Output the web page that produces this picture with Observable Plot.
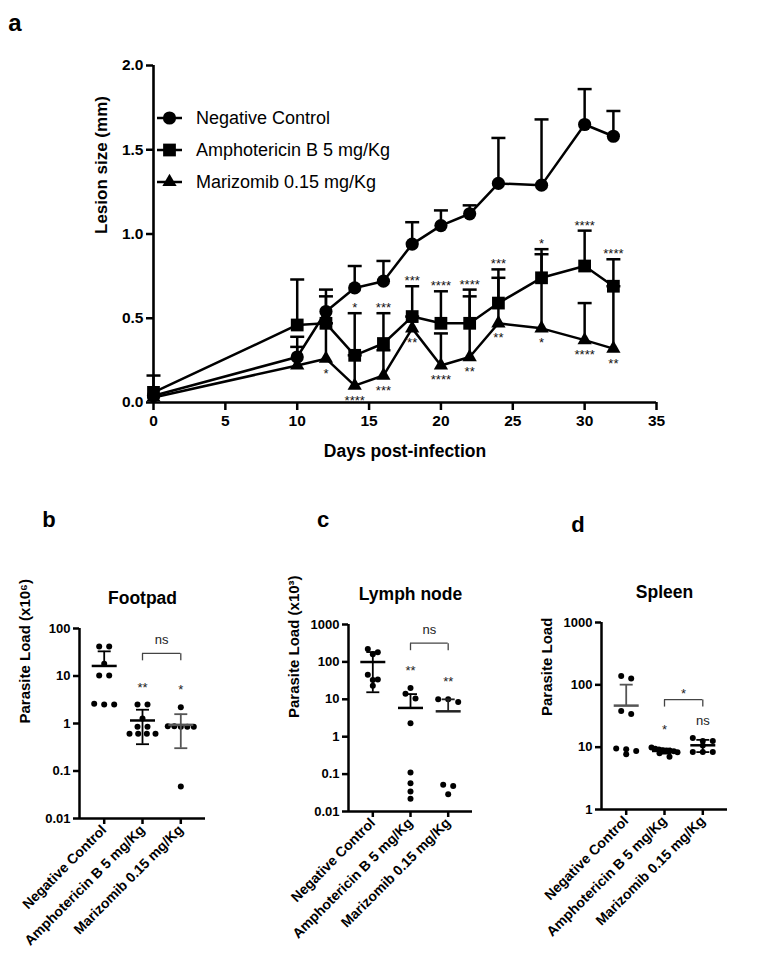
<!DOCTYPE html>
<html>
<head>
<meta charset="utf-8">
<script src="https://cdn.jsdelivr.net/npm/d3@7"></script>
<script src="https://cdn.jsdelivr.net/npm/@observablehq/plot@0.6"></script>
<style>
  body { margin: 0; background: #fff; }
  #fig { position: relative; width: 772px; height: 957px; background: #fff; overflow: hidden;
         font-family: "Liberation Sans", Arial, Helvetica, sans-serif; color: #000; }
  .panel { position: absolute; }
  .letter { position: absolute; font-weight: bold; font-size: 22px; line-height: 1; transform: translate(-50%, -50%); }
  .legend { position: absolute; left: 155px; top: 102px; font-size: 18px; }
  .legend .row { display: flex; align-items: center; height: 32px; }
  .legend .row span { margin-left: 11px; white-space: nowrap; }
</style>
</head>
<body>
<div id="fig"></div>
<script>
// ---- Lesion size over time (panel a) ----
const days = [0, 10, 12, 14, 16, 18, 20, 22, 24, 27, 30, 32];
const dayTicks = [0, 5, 10, 15, 20, 25, 30, 35];
const lesionTicks = [0, 0.5, 1.0, 1.5, 2.0];
const seriesNames = ["Negative Control", "Amphotericin B 5 mg/Kg", "Marizomib 0.15 mg/Kg"];

const controlMean = [0.04, 0.27, 0.54, 0.68, 0.72, 0.94, 1.05, 1.12, 1.30, 1.29, 1.65, 1.58];
const controlTop  = [0.04, 0.39, 0.67, 0.81, 0.84, 1.07, 1.14, 1.17, 1.57, 1.68, 1.86, 1.73];
const amphoMean   = [0.06, 0.46, 0.47, 0.28, 0.35, 0.51, 0.47, 0.47, 0.59, 0.74, 0.81, 0.69];
const amphoTop    = [0.16, 0.73, 0.63, 0.53, 0.53, 0.69, 0.66, 0.67, 0.79, 0.91, 1.02, 0.85];
const marizMean   = [0.03, 0.22, 0.26, 0.10, 0.16, 0.44, 0.22, 0.27, 0.47, 0.44, 0.37, 0.32];
const marizTop    = [0.03, 0.33, 0.47, 0.28, 0.31, 0.51, 0.41, 0.63, 0.74, 0.88, 0.59, 0.69];
const amphoStars  = ["", "", "", "*", "***", "***", "****", "****", "***", "*", "****", "****"];
const marizStars  = ["", "", "*", "****", "***", "**", "****", "**", "**", "*", "****", "**"];

// ---- Parasite load per organ (panels b–d) ----
const groupNames = ["Negative Control", "Amphotericin B 5 mg/Kg", "Marizomib 0.15 mg/Kg"];

const footpadControl = [42, 42, 18, 10.3, 10.3, 2.5, 2.6, 2.5];
const footpadAmpho   = [2.5, 2.5, 1.28, 0.85, 0.85, 0.61, 0.61, 0.61, 0.61];
const footpadMariz   = [2.2, 0.88, 0.85, 0.85, 0.88, 0.85, 0.047];
const footpadTicks   = [0.01, 0.1, 1, 10, 100];
const footpadStars   = ["", "**", "*"];

const lymphControl = [160, 180, 220, 45, 33, 34, 23];
const lymphAmpho   = [14, 20, 10.5, 2.3, 0.11, 0.057, 0.034, 0.022];
const lymphMariz   = [10, 8.5, 10, 0.052, 0.048, 0.029];
const lymphTicks   = [0.01, 0.1, 1, 10, 100, 1000];
const lymphStars   = ["", "**", "**"];

const spleenControl = [126, 138, 34, 38, 9.5, 9.3, 7.7, 8.7];
const spleenAmpho   = [9.9, 9.4, 9.2, 8.9, 8.8, 8.8, 8.6, 8.3, 8.0, 7.0];
const spleenMariz   = [12.6, 12.6, 14, 10.6, 8.4, 8.4, 8.4];
const spleenTicks   = [1, 10, 100, 1000];
const spleenStars   = ["", "*", "ns"];

const bracketLabels = ["ns", "ns", "*"];
const bracketLevels = [30, 316, 58];

// ---------------------------------------------------------------
const fig = document.getElementById("fig");
const FONT = "'Liberation Sans', Arial, Helvetica, sans-serif";

// horizontal bar and downward leg drawn as pixel-sized symbols
const hline = {draw(ctx, size) { const w = Math.sqrt(size / Math.PI); ctx.moveTo(-w, 0); ctx.lineTo(w, 0); }};
const legDown = {draw(ctx, size) { const h = Math.sqrt(size / Math.PI); ctx.moveTo(0, 0); ctx.lineTo(0, h); }};

function place(node, left, top) {
  node.classList.add("panel");
  node.style.left = left + "px";
  node.style.top = top + "px";
  fig.appendChild(node);
}
function letter(t, x, y, size) {
  const d = document.createElement("div");
  d.className = "letter"; d.textContent = t;
  d.style.left = x + "px"; d.style.top = y + "px";
  if (size) d.style.fontSize = size + "px";
  fig.appendChild(d);
}

// ---- panel a ----
const lesion = days.flatMap((day, i) => [
  {series: seriesNames[0], day, mean: controlMean[i], top: controlTop[i], stars: ""},
  {series: seriesNames[1], day, mean: amphoMean[i], top: amphoTop[i], stars: amphoStars[i]},
  {series: seriesNames[2], day, mean: marizMean[i], top: marizTop[i], stars: marizStars[i]}
]);
const withBar = lesion.filter(d => d.top > d.mean);
const markerSpec = [
  {symbol: "circle", r: 6.6},
  {symbol: "square", r: 7.2},
  {symbol: "triangle", r: 5.3}
];

const plotA = Plot.plot({
  width: 772, height: 470,
  marginLeft: 153, marginRight: 116, marginTop: 65, marginBottom: 68,
  x: {domain: [0, 35]},
  y: {domain: [0, 2]},
  style: {fontFamily: FONT, fontSize: "15.5px", fontWeight: "bold", color: "black", background: "transparent", overflow: "visible"},
  marks: [
    Plot.ruleX(withBar, {x: "day", y1: "mean", y2: "top", stroke: "black", strokeWidth: 2.5}),
    Plot.dot(withBar, {x: "day", y: "top", symbol: hline, r: 7, fill: "none", stroke: "black", strokeWidth: 2.5}),
    Plot.line(lesion, {x: "day", y: "mean", z: "series", stroke: "black", strokeWidth: 2.5}),
    ...seriesNames.map((s, k) => Plot.dot(lesion.filter(d => d.series === s),
      {x: "day", y: "mean", symbol: markerSpec[k].symbol, r: markerSpec[k].r, fill: "black", stroke: "none"})),
    Plot.text(lesion.filter(d => d.series === seriesNames[1] && d.stars),
      {x: "day", y: "top", text: "stars", lineAnchor: "bottom", dy: -1, fontSize: 13, fontWeight: "normal", fill: "#111"}),
    Plot.text(lesion.filter(d => d.series === seriesNames[2] && d.stars),
      {x: "day", y: "mean", text: "stars", lineAnchor: "bottom", dy: 19, fontSize: 13, fontWeight: "normal", fill: "#111"}),
    Plot.ruleX([0], {stroke: "black", strokeWidth: 2.6}),
    Plot.ruleY([0], {stroke: "black", strokeWidth: 2.6}),
    Plot.axisY({ticks: lesionTicks, tickFormat: d3.format(".1f"), tickSize: 7, tickPadding: 3, strokeWidth: 2.5, label: null}),
    Plot.axisX({ticks: dayTicks, tickSize: 8, tickPadding: 4, strokeWidth: 2.5, label: null}),
    Plot.text(["Days post-infection"], {frameAnchor: "bottom", dy: 49, lineAnchor: "middle", fontSize: 17.5}),
    Plot.text(["Lesion size (mm)"], {frameAnchor: "left", dx: -52, rotate: -90, lineAnchor: "middle", fontSize: 17})
  ]
});
place(plotA, 0, 0);
letter("a", 15, 23, 24);

// legend
const legend = document.createElement("div");
legend.className = "legend";
const legendSymbols = [d3.symbolCircle, d3.symbolSquare, d3.symbolTriangle];
seriesNames.forEach((name, k) => {
  const row = document.createElement("div");
  row.className = "row";
  const svg = d3.create("svg").attr("width", 30).attr("height", 32);
  svg.append("line").attr("x1", 2).attr("x2", 27).attr("y1", 16).attr("y2", 16)
    .attr("stroke", "black").attr("stroke-width", 2.5);
  svg.append("path").attr("transform", "translate(14.5,16)")
    .attr("d", d3.symbol(legendSymbols[k], Math.PI * markerSpec[k].r ** 2)()).attr("fill", "black");
  row.appendChild(svg.node());
  const span = document.createElement("span");
  span.textContent = name;
  row.appendChild(span);
  legend.appendChild(row);
});
fig.appendChild(legend);

// ---- panels b–d ----
const PAD = 0.645;

// spread points that share a level side by side, centred on their column
function scatterOffsets(values, pxPerDecade) {
  const idx = d3.range(values.length).sort((a, b) => values[b] - values[a]);
  const rows = [];
  for (const i of idx) {
    const y = Math.log10(values[i]) * pxPerDecade;
    const row = rows[rows.length - 1];
    if (row && row.y0 - y < 5) row.items.push(i);
    else rows.push({y0: y, items: [i]});
  }
  const off = new Array(values.length).fill(0);
  for (const {items} of rows) {
    const n = items.length;
    const s = n > 1 ? Math.min(10, 26 / (n - 1)) : 0;
    items.forEach((i, j) => off[i] = (j - (n - 1) / 2) * s);
  }
  return off;
}

function loadPanel(cfg) {
  const {groups, ticks, title, yLabel, stars, bracketLabel, bracketLevel, layout, barColors} = cfg;
  const domain = [ticks[0], ticks[ticks.length - 1]];
  const frameH = layout.height - layout.marginTop - layout.marginBottom;
  const frameW = layout.width - layout.marginLeft - layout.marginRight;
  const pxPerDecade = frameH / Math.log10(domain[1] / domain[0]);
  const step = frameW / (2 + 2 * PAD);

  const points = groups.flatMap((vals, g) => {
    const off = scatterOffsets(vals, pxPerDecade);
    return vals.map((v, i) => ({g, value: v, x: g + off[i] / step}));
  });
  const stats = groups.map((vals, g) => {
    const m = d3.mean(vals), sd = d3.deviation(vals);
    const lo = m - sd;
    return {g, mean: m, hi: m + sd, lo: lo > 0 ? lo : null, max: d3.max(vals), star: stars[g], color: barColors[g]};
  });
  const lows = stats.filter(d => d.lo !== null);

  return Plot.plot({
    width: layout.width, height: layout.height,
    marginLeft: layout.marginLeft, marginRight: layout.marginRight,
    marginTop: layout.marginTop, marginBottom: layout.marginBottom,
    x: {domain: [-PAD, 2 + PAD]},
    y: {type: "log", domain},
    style: {fontFamily: FONT, fontSize: "13px", fontWeight: "bold", color: "black", background: "transparent", overflow: "visible"},
    marks: [
      Plot.dot(points, {x: "x", y: "value", r: 3, fill: "black", stroke: "none"}),
      Plot.ruleX(stats, {x: "g", y1: d => d.lo ?? d.mean, y2: "hi", stroke: "color", strokeWidth: 1.8}),
      Plot.dot(stats, {x: "g", y: "hi", symbol: hline, r: 6.5, fill: "none", stroke: "color", strokeWidth: 1.8}),
      Plot.dot(lows, {x: "g", y: "lo", symbol: hline, r: 6.5, fill: "none", stroke: "color", strokeWidth: 1.8}),
      Plot.dot(stats, {x: "g", y: "mean", symbol: hline, r: 12.5, fill: "none", stroke: "color", strokeWidth: 2.5}),
      Plot.text(stats.filter(d => d.star), {x: "g", y: "max", text: "star", lineAnchor: "bottom",
        dy: -13, fontSize: 13, fontWeight: "normal", fill: "#222"}),
      Plot.ruleY([bracketLevel], {x1: 1, x2: 2, stroke: "#444", strokeWidth: 1.3}),
      Plot.dot([1, 2], {x: d => d, y: () => bracketLevel, symbol: legDown, r: 7, fill: "none", stroke: "#444", strokeWidth: 1.3}),
      Plot.text([bracketLabel], {x: () => 1.5, y: () => bracketLevel, text: d => d, lineAnchor: "bottom",
        dy: bracketLabel.includes("*") ? -2 : -9, fontSize: 13, fontWeight: "normal", fill: "#222"}),
      Plot.ruleX([-PAD], {stroke: "black", strokeWidth: 2.5}),
      Plot.ruleY([domain[0]], {stroke: "black", strokeWidth: 2.5}),
      Plot.axisY({ticks, tickFormat: d => String(d), tickSize: 6, tickPadding: 3, strokeWidth: 2.5, label: null}),
      Plot.axisX({ticks: [0, 1, 2], tickFormat: i => groupNames[i], tickRotate: -45, tickSize: 6, tickPadding: 3,
        strokeWidth: 2.5, fontSize: 14, label: null}),
      Plot.text([title], {frameAnchor: "top", dy: -30, lineAnchor: "middle", fontSize: 17.5}),
      Plot.text([yLabel], {frameAnchor: "left", dx: -54, rotate: -90, lineAnchor: "middle", fontSize: 15})
    ]
  });
}

const BLACK = "black", GREY = "#555";

place(loadPanel({
  groups: [footpadControl, footpadAmpho, footpadMariz], ticks: footpadTicks, stars: footpadStars,
  title: "Footpad", yLabel: "Parasite Load (x10\u2076)",
  bracketLabel: bracketLabels[0], bracketLevel: bracketLevels[0], barColors: [BLACK, BLACK, GREY],
  layout: {width: 250, height: 397, marginLeft: 79, marginRight: 45, marginTop: 68, marginBottom: 139}
}), 0, 560);

place(loadPanel({
  groups: [lymphControl, lymphAmpho, lymphMariz], ticks: lymphTicks, stars: lymphStars,
  title: "Lymph node", yLabel: "Parasite Load (x10\u00b3)",
  bracketLabel: bracketLabels[1], bracketLevel: bracketLevels[1], barColors: [BLACK, BLACK, "#222"],
  layout: {width: 250, height: 397, marginLeft: 98, marginRight: 28, marginTop: 64, marginBottom: 146}
}), 250, 560);

place(loadPanel({
  groups: [spleenControl, spleenAmpho, spleenMariz], ticks: spleenTicks, stars: spleenStars,
  title: "Spleen", yLabel: "Parasite Load",
  bracketLabel: bracketLabels[2], bracketLevel: bracketLevels[2], barColors: [GREY, BLACK, BLACK],
  layout: {width: 272, height: 397, marginLeft: 101, marginRight: 45, marginTop: 62, marginBottom: 148}
}), 500, 560);

letter("b", 49, 520);
letter("c", 323, 520);
letter("d", 578, 525);
</script>
</body>
</html>
